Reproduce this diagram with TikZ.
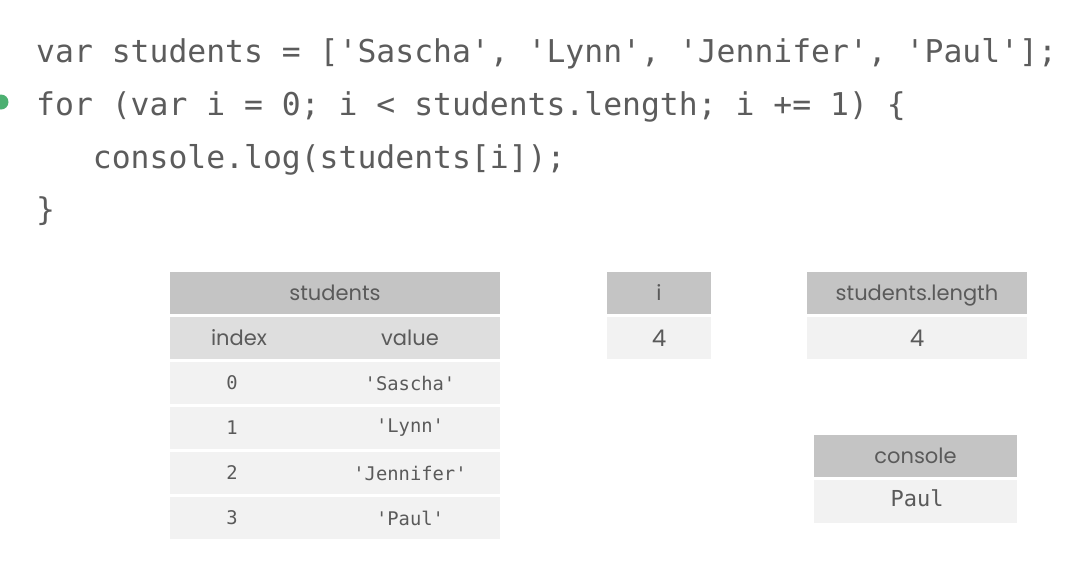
\documentclass[tikz,border=0pt]{standalone}
\usepackage{fontspec}
\setmainfont{Poppins}
\newfontfamily\codefont{DejaVu Sans Mono}
\newfontfamily\labelfont{Poppins}
\definecolor{codegray}{HTML}{5C5C5C}
\definecolor{headfill}{HTML}{C4C4C4}
\definecolor{subfill}{HTML}{DEDEDE}
\definecolor{rowfill}{HTML}{F2F2F2}
\definecolor{celltext}{HTML}{5A5A5A}
\definecolor{dotgreen}{HTML}{4CB071}
\begin{document}
\begin{tikzpicture}[x=1pt,y=-1pt,
  codeline/.style={anchor=base west, inner sep=0pt, text=codegray,
    font=\codefont\fontsize{31.4}{36}\selectfont},
  cell/.style={rectangle, inner sep=0pt, draw=none, text=celltext},
  headcell/.style={cell, fill=headfill, font=\labelfont\fontsize{21}{24}\selectfont, text depth=0pt, text height=0pt},
  subcell/.style={cell, fill=subfill},
  rowcell/.style={cell, fill=rowfill},
  sanstext/.style={inner sep=0pt, text=celltext, font=\labelfont\fontsize{21}{24}\selectfont},
  monotext/.style={inner sep=0pt, text=celltext, font=\codefont\fontsize{18.8}{22}\selectfont},
  bigmono/.style={inner sep=0pt, text=celltext, font=\codefont\fontsize{22}{26}\selectfont}
]
\useasboundingbox (0,0) rectangle (1075,566);
\fill[white] (0,0) rectangle (1075,566);

% code
\node[codeline] (l1) at (36,62) {var students = ['Sascha', 'Lynn', 'Jennifer', 'Paul'];};
\node[codeline] (l2) at (36,115) {for (var i = 0; i < students.length; i += 1) \{};
\node[codeline] (l3) at (36,168) {\ \ \ console.log(students[i]);};
\node[codeline] (l4) at (36,220) {\}};
\node[circle, fill=dotgreen, inner sep=0pt, minimum size=15pt] (dot) at (1,102) {};

% students table
\node[headcell, minimum width=330pt, minimum height=42pt] (sthead) at (335,293) {};
\node[sanstext, anchor=base] (sttext) at (335,300) {students};
\node[subcell, minimum width=330pt, minimum height=42pt] (stsub) at (335,338) {};
\node[sanstext, anchor=base] (idxlab) at (239,345) {index};
\node[sanstext, anchor=base] (vallab) at (410,345) {value};
\foreach \r/\v/\y in {0/'Sascha'/383, 1/'Lynn'/428, 2/'Jennifer'/473, 3/'Paul'/518}{
  \node[rowcell, minimum width=330pt, minimum height=42pt] (row\r) at (335,\y) {};
  \node[monotext] (idx\r) at (232,\y) {\r};
  \node[monotext] (val\r) at (410,\y) {\v};
}

% i table
\node[headcell, minimum width=104pt, minimum height=42pt] (ihead) at (659,293) {};
\node[sanstext, anchor=base] (itext) at (659,300) {i};
\node[rowcell, minimum width=104pt, minimum height=42pt] (ival) at (659,338) {};
\node[sanstext, anchor=base, font=\labelfont\fontsize{23}{26}\selectfont] (ivaltext) at (659,346) {4};

% students.length
\node[headcell, minimum width=220pt, minimum height=42pt] (lhead) at (917,293) {};
\node[sanstext, anchor=base] (ltext) at (917,300) {students.length};
\node[rowcell, minimum width=220pt, minimum height=42pt] (lval) at (917,338) {};
\node[sanstext, anchor=base, font=\labelfont\fontsize{23}{26}\selectfont] (lvaltext) at (917,346) {4};

% console
\node[headcell, minimum width=203pt, minimum height=42pt] (chead) at (915.5,456) {};
\node[sanstext, anchor=base] (ctitle) at (915.5,463) {console};
\node[rowcell, minimum width=203pt, minimum height=43pt] (cval) at (915.5,501) {};
\node[bigmono] (ctext) at (917,498) {Paul};
\end{tikzpicture}
\end{document}
